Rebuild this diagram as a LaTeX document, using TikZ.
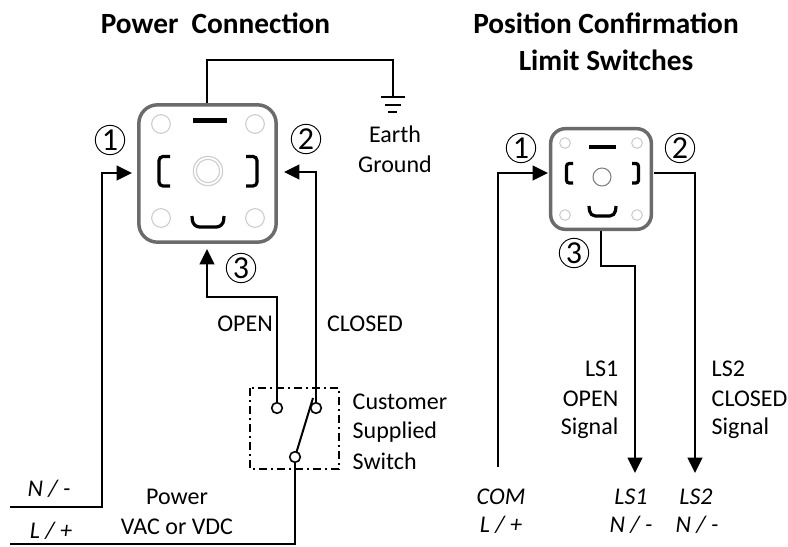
\documentclass[tikz,border=0pt]{standalone}
\usepackage{fontspec}
\setmainfont{Carlito}
\usetikzlibrary{arrows.meta}
\definecolor{plugrim}{gray}{0.42}
\definecolor{holerim}{gray}{0.8}
\begin{document}
\begin{tikzpicture}[
        x=0.75pt, y=-0.75pt,
        wire/.style={line width=1.5pt, line join=miter},
        feed/.style={wire, -{Triangle[length=11.5pt,width=11pt]}},
        plug/.style={draw=plugrim, line width=2.6pt, rounded corners=14pt, fill=white, inner sep=0pt},
        smallplug/.style={draw=plugrim, line width=2.6pt, rounded corners=11pt, fill=white, inner sep=0pt},
        hole/.style={circle, draw=holerim, line width=0.8pt, inner sep=0pt},
        blade/.style={line width=2.4pt, line cap=butt},
        term/.style={circle, draw=black, line width=1.2pt, fill=white, minimum size=8pt, inner sep=0pt},
        num/.style={circle, draw=black, line width=0.7pt, minimum size=22pt, inner sep=0pt, font=\fontsize{24}{24}\selectfont},
        lbl/.style={font=\fontsize{18}{20}\selectfont},
        ital/.style={font=\fontsize{18}{20}\selectfont\itshape},
        head/.style={font=\fontsize{22}{24}\selectfont\bfseries}
    ]
    \useasboundingbox (0,0) rectangle (788,546);

    % Titles
    \node[head] (t1) at (215.5,23) {Power\ \ Connection};
    \node[head] (t2) at (606,23) {Position Confirmation};
    \node[head] (t3) at (606,60) {Limit Switches};

    % Power plug
    \node[plug, minimum width=103pt, minimum height=103pt] (pwr) at (207.5,173.5) {};
    \foreach \hx/\hy [count=\i] in {161/124, 255/124, 161/218, 255/218}
        \node[hole, minimum size=14pt] (ph\i) at (\hx,\hy) {};
    \node[hole, minimum size=22pt] (pc) at (208,171) {};
    \node[hole, minimum size=17.5pt] (pd) at (208,171) {};
    \draw[blade, line width=4pt] (193,120.5) -- (227,120.5);
    \draw[blade, rounded corners=3pt] (170,156.5) -- (159,156.5) -- (159,186) -- (170,186);
    \draw[blade, rounded corners=3pt] (246,156.5) -- (257,156.5) -- (257,186) -- (246,186);
    \draw[blade, rounded corners=5pt] (192,216) -- (193,227) -- (223,227) -- (224,216);

    % Ground
    \coordinate (gt) at (207,103);
    \coordinate (gnd) at (393,97);
    \draw[wire] (gt) |- (393,60) -- (gnd);
    \draw[wire] (381,97) -- (405,97);
    \draw[wire] (385,105) -- (401,105);
    \draw[wire] (388,112) -- (397,112);
    \node[lbl] (eg1) at (395,134) {Earth};
    \node[lbl] (eg2) at (395,164) {Ground};

    % Power terminal numbers
    \node[num] (n1) at (110,140) {1};
    \node[num] (n2) at (306,139) {2};
    \node[num] (n3) at (241,268) {3};

    % Switch
    \draw[line width=1.2pt, dash pattern=on 6pt off 3pt on 1.5pt off 3pt] (250,388) rectangle (339,469);
    \coordinate (blade) at (313,398);
    \draw[wire] (295,457) -- (blade);
    \node[term] (sw1) at (277,408) {};
    \node[term] (sw2) at (316,408) {};
    \node[term] (sw3) at (295,457) {};
    \node[lbl, anchor=west] (cs1) at (348,402) {Customer};
    \node[lbl, anchor=west] (cs2) at (348,432) {Supplied};
    \node[lbl, anchor=west] (cs3) at (348,461) {Switch};

    % Power wires
    \coordinate (nl) at (10,507);
    \coordinate (ll) at (10,544);
    \coordinate (p1) at (132,173);
    \coordinate (p2) at (284,172);
    \coordinate (p3) at (207,249);
    \draw[feed] (nl) -- (102,507) |- (p1);
    \draw[feed] (sw2) |- (p2);
    \draw[feed] (sw1) |- (207,297) -- (p3);
    \draw[wire] (ll) -| (sw3);

    \node[lbl] (wo) at (245,324) {OPEN};
    \node[lbl] (wc) at (365,324) {CLOSED};
    \node[ital] (wn) at (49,489) {N / -};
    \node[ital] (wl) at (51,531) {L / +};
    \node[lbl] (wp) at (177,497) {Power};
    \node[lbl] (wv) at (177,527) {VAC or VDC};

    % Limit switch plug
    \node[smallplug, minimum width=75.5pt, minimum height=75.5pt] (lim) at (601,179) {};
    \foreach \hx/\hy [count=\i] in {565/143, 637/143, 565/215, 637/215}
        \node[hole, minimum size=8pt] (lh\i) at (\hx,\hy) {};
    \node[circle, draw=gray, line width=0.8pt, minimum size=13.5pt, inner sep=0pt] (lc) at (602,177) {};
    \draw[blade, line width=3pt] (589,147) -- (616,147);
    \draw[blade, rounded corners=2pt] (573,163.5) -- (566.5,163.5) -- (566.5,183) -- (573,183);
    \draw[blade, rounded corners=2pt] (632,163.5) -- (638.5,163.5) -- (638.5,183) -- (632,183);
    \draw[blade, rounded corners=4pt] (589,206) -- (590,216) -- (615,216) -- (616,206);

    \node[num] (m1) at (521,148) {1};
    \node[num] (m2) at (680,148) {2};
    \node[num] (m3) at (574,253) {3};

    % Limit switch wires
    \coordinate (com) at (498,467);
    \coordinate (l1) at (548,173);
    \coordinate (l2) at (654,173);
    \coordinate (l3) at (601,231);
    \coordinate (ls1) at (635,473);
    \coordinate (ls2) at (695,473);
    \draw[feed] (com) |- (l1);
    \draw[feed] (l2) -| (ls2);
    \draw[feed] (l3) |- (635,266) -- (ls1);

    \node[lbl, anchor=east] (a1) at (623,369) {LS1};
    \node[lbl, anchor=east] (a2) at (623,399) {OPEN};
    \node[lbl, anchor=east] (a3) at (623,428) {Signal};
    \node[lbl, anchor=west] (b1) at (707,369) {LS2};
    \node[lbl, anchor=west] (b2) at (707,399) {CLOSED};
    \node[lbl, anchor=west] (b3) at (707,428) {Signal};
    \node[ital] (c1) at (501,497) {COM};
    \node[ital] (c2) at (501,525) {L / +};
    \node[ital] (c3) at (631,497) {LS1};
    \node[ital] (c4) at (631,525) {N / -};
    \node[ital] (c5) at (696,497) {LS2};
    \node[ital] (c6) at (697,525) {N / -};
\end{tikzpicture}
\end{document}
